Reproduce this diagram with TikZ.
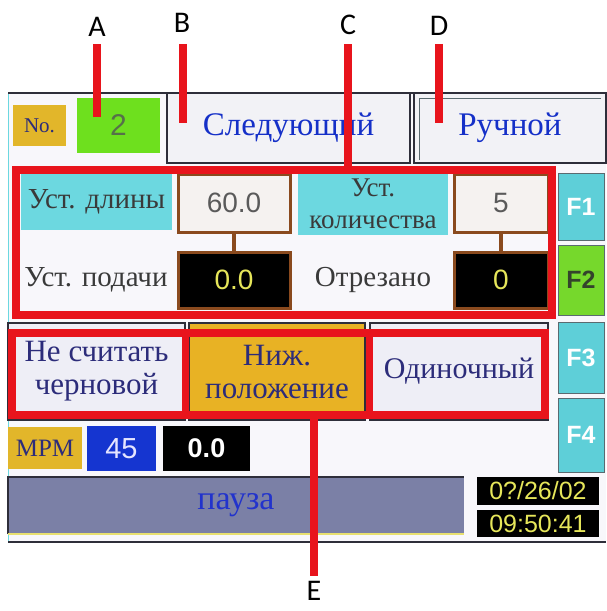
\documentclass[tikz,border=0pt]{standalone}
\usepackage{fontspec}
\setmainfont{Liberation Serif}
\setsansfont{Liberation Sans}
\newfontfamily\tagfont{Carlito}
\usetikzlibrary{calc}

\definecolor{hmired}{HTML}{E8141C}
\definecolor{panelbg}{HTML}{F8F7FB}
\definecolor{rimdark}{HTML}{2E2E3A}
\definecolor{goldtag}{HTML}{E2B62A}
\definecolor{limegreen}{HTML}{6EE01E}
\definecolor{olivetxt}{HTML}{56704A}
\definecolor{keybg}{HTML}{F2F2F6}
\definecolor{btnblue}{HTML}{1530C8}
\definecolor{navytxt}{HTML}{2C2C7A}
\definecolor{cyanset}{HTML}{6CD8E0}
\definecolor{txtdark}{HTML}{3A3A3A}
\definecolor{brownrim}{HTML}{8A4A1E}
\definecolor{valbg}{HTML}{F5F2F0}
\definecolor{valgrey}{HTML}{5A5A5A}
\definecolor{yelnum}{HTML}{E6E65A}
\definecolor{fcyan}{HTML}{5ECFD8}
\definecolor{fgreen}{HTML}{76D82C}
\definecolor{fdark}{HTML}{5A6A70}
\definecolor{lavender}{HTML}{EEEEF6}
\definecolor{amberkey}{HTML}{E8B224}
\definecolor{speedblue}{HTML}{1535D0}
\definecolor{slatebar}{HTML}{7B80A6}
\definecolor{statusblue}{HTML}{2233CC}
\definecolor{yelrim}{HTML}{E8E070}

\newcommand\fsz[1]{\fontsize{#1}{#1}\selectfont}

\begin{document}
\begin{tikzpicture}[x=1pt, y=-1pt,
    cell/.style={rectangle, inner sep=0pt, align=center},
    key/.style={cell, fill=keybg, draw=rimdark, line width=1.2pt},
    lbox/.style={cell, fill=cyanset, text=txtdark, font=\fsz{29}},
    vbox/.style={cell, fill=valbg, draw=brownrim, line width=3pt, text=valgrey, font=\sffamily\fsz{28}},
    dbox/.style={vbox, fill=black, text=yelnum},
    fkey/.style={cell, fill=fcyan, draw=fdark, line width=1pt, text=white, font=\sffamily\bfseries\fsz{25}, minimum width=46},
    redframe/.style={rectangle, inner sep=0pt, draw=hmired, line width=7.5pt},
    leader/.style={draw=hmired, line width=8pt},
    tag/.style={inner sep=0pt, font=\tagfont\fsz{30}}]
  \useasboundingbox (0,0) rectangle (606,611);

  % screen
  \fill[panelbg] (8,93) rectangle (606,542);
  \draw[cyanset, line width=1pt] (8,93) -- (8,542);
  \draw[rimdark, line width=1.5pt] (8,93) -- (606,93);
  \draw[rimdark, line width=2pt] (8,542) -- (606,542);

  % top row
  \node[cell, fill=goldtag, minimum width=53, minimum height=41, font=\fsz{21}, text=navytxt] (noTag) at (39.5,125.5) {No.};
  \node[cell, fill=limegreen, minimum width=83, minimum height=55, font=\sffamily\fsz{30}, text=olivetxt] (noVal) at (118.5,125.5) {2};
  \node[key, minimum width=243, minimum height=70, font=\fsz{33}, text=btnblue] (nextKey) at (288.5,128) {Следующий};
  \node[key, minimum width=192, minimum height=70, font=\fsz{33}, text=btnblue] (manKey) at (510,128) {Ручной};
  \draw[fdark, line width=1pt] ($(manKey.south west)+(6,-4)$) |- ($(manKey.north east)+(-6,6)$);

  % settings
  \node[lbox, minimum width=151, minimum height=56] (lenTag) at (96.5,202) {Уст. длины};
  \node[vbox, minimum width=112, minimum height=58] (lenVal) at (234,203) {60.0};
  \node[lbox, minimum width=150, minimum height=63, font=\fontsize{27}{32}\selectfont] (qtyTag) at (373,203.5) {Уст.\\количества};
  \node[vbox, minimum width=94, minimum height=58] (qtyVal) at (501,203) {5};
  \node[cell, font=\fsz{29}, text=txtdark] (feedTag) at (96,280) {Уст. подачи};
  \node[dbox, minimum width=112, minimum height=56] (feedVal) at (234,280) {0.0};
  \node[cell, font=\fsz{29}, text=txtdark] (cutTag) at (373,280) {Отрезано};
  \node[dbox, minimum width=94, minimum height=56] (cutVal) at (501,280) {0};
  \draw[brownrim, line width=4pt] (lenVal) -- (feedVal);
  \draw[brownrim, line width=4pt] (qtyVal) -- (cutVal);

  % function keys
  \node[fkey, minimum height=67] (fOne) at (581,206.5) {F1};
  \node[fkey, fill=fgreen, text=olivetxt!60!black, minimum height=70] (fTwo) at (581,280) {F2};
  \node[fkey, minimum height=71] (fThree) at (581,357.5) {F3};
  \node[fkey, minimum height=74] (fFour) at (581,435) {F4};

  % mode keys
  \node[key, fill=lavender, text=navytxt, font=\fontsize{31}{33}\selectfont, minimum width=177, minimum height=97] (roughKey) at (96.5,371.5) {Не считать\\черновой};
  \node[key, fill=amberkey, text=navytxt, font=\fontsize{31}{33}\selectfont, minimum width=176, minimum height=97] (lowKey) at (277,371.5) {Ниж.\\положение};
  \node[key, fill=lavender, text=navytxt, font=\fsz{30}, minimum width=178, minimum height=97] (singleKey) at (459,371.5) {Одиночный};

  % speed row
  \node[cell, fill=goldtag, minimum width=74, minimum height=42, font=\fsz{25}, text=navytxt] (mpmTag) at (45,448) {MPM};
  \node[cell, fill=speedblue, minimum width=69, minimum height=45, font=\sffamily\fsz{29}, text=blue!10] (mpmVal) at (121.5,448.5) {45};
  \node[cell, fill=black, minimum width=87, minimum height=45, font=\sffamily\bfseries\fsz{27}, text=white] (runLen) at (206.5,448.5) {0.0};

  % status
  \node[cell, fill=slatebar, minimum width=456, minimum height=57, font=\fsz{34}, text=statusblue] (stateBar) at (236,505.5) {пауза};
  \draw[rimdark, line width=2pt] (stateBar.south west) |- (stateBar.north east);
  \draw[yelrim, line width=2pt] (stateBar.south west) -- (stateBar.south east);
  \node[cell, fill=black, minimum width=122, minimum height=28, font=\sffamily\fsz{25}, text=yelnum] (dateBox) at (538,491) {0?/26/02};
  \node[cell, fill=black, minimum width=122, minimum height=27, font=\sffamily\fsz{25}, text=yelnum] (timeBox) at (538,523.5) {09:50:41};

  % red marks
  \node[redframe, minimum width=536, minimum height=145] (groupC) at (284,242.5) {};
  \node[redframe, minimum width=533, minimum height=82] (groupE) at (278.5,374) {};
  \draw[leader, line width=7.5pt] (groupE.north -| roughKey.east) -- (groupE.south -| roughKey.east);
  \draw[leader, line width=7.5pt] (groupE.north -| singleKey.west) -- (groupE.south -| singleKey.west);

  \node[tag] (tagA) at (97,26.5) {A};
  \node[tag] (tagB) at (182,23) {B};
  \node[tag] (tagC) at (348,25) {C};
  \node[tag] (tagD) at (439,26) {D};
  \node[tag] (tagE) at (314,591) {E};
  \coordinate (tipA) at (97,117);
  \coordinate (tipB) at (183,123);
  \coordinate (tipD) at (439,123);
  \draw[leader, shorten <=8pt] (tagA.south) -- (tipA);
  \draw[leader, shorten <=11pt] (tagB.south -| tipB) -- (tipB);
  \draw[leader, shorten <=9pt] (tagC.south) -- (tagC.south |- groupC.north);
  \draw[leader, shorten <=8pt] (tagD.south) -- (tipD);
  \draw[leader, shorten >=5pt] (groupE.south -| tagE) -- (tagE.north);
\end{tikzpicture}
\end{document}
